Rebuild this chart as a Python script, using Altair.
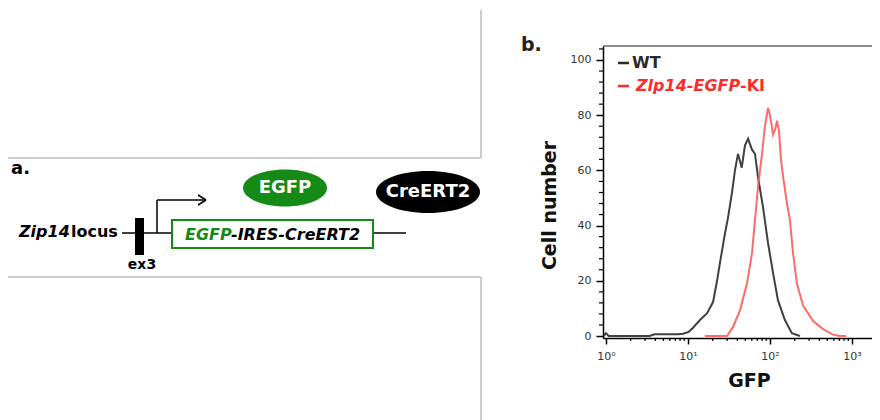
import altair as alt
import pandas as pd

FONT = "DejaVu Sans"

# ---------------- data (panel b: flow cytometry histogram) ----------------
WT_GFP = [0.93, 1.0, 1.08, 3.4, 3.9, 7.5, 8.7, 10.2, 11.5, 14.0,
          17.1, 20.2, 22.6, 24.5, 28.2, 30.8, 34.4, 37.4, 40.7, 45.2,
          49.5, 54.0, 60.3, 65.6, 71.4, 82.2, 94.6, 109, 125, 152,
          185, 232]
WT_COUNT = [0, 1.0, 0, 0, 0.6, 0.6, 0.8, 1.5, 3.0, 5.8,
            8.3, 12.3, 20, 26.4, 37, 43, 52, 60, 66, 61,
            69, 71.5, 67.5, 66, 57.6, 46.7, 33.7, 22.8, 13, 5.8,
            1.0, 0]
KI_GFP = [16.1, 29.9, 35.4, 43.1, 52.4, 60.3, 65.6, 71.4, 79.9, 86.9,
          94.6, 100, 109, 116, 122, 129, 136, 144, 161, 175,
          191, 213, 253, 334, 443, 587, 714, 850]
KI_COUNT = [0, 0, 3.3, 9.4, 19, 30, 42, 54, 66, 76,
            82.6, 80, 73, 75, 78, 74, 64, 58, 48, 42,
            30, 19, 11, 5.5, 2.5, 0.5, 0, 0]
SERIES = ["WT", "Zlp14-EGFP-KI"]
SERIES_COLORS = ["#2b2b2b", "#ff5a5a"]

X_MAJOR = [1, 10, 100, 1000]
X_MINOR = [2, 3, 4, 5, 6, 7, 8, 9, 20, 30, 40, 50, 60, 70, 80, 90,
           200, 300, 400, 500, 600, 700, 800, 900]
Y_MAJOR = [0, 20, 40, 60, 80, 100]
Y_MINOR = [4, 8, 12, 16, 24, 28, 32, 36, 44, 48, 52, 56, 64, 68, 72, 76,
           84, 88, 92, 96, 104]

hist = pd.DataFrame({
    "gfp": WT_GFP + KI_GFP,
    "count": WT_COUNT + KI_COUNT,
    "sample": [SERIES[0]] * len(WT_GFP) + [SERIES[1]] * len(KI_GFP),
})

# ---------------- geometry ----------------
OX, OY = 603, 46          # page position of the plot area's origin
RIGHT = 872               # page x of the plot's right edge (stay inside page)
PLOT_W, PLOT_H = RIGHT - OX, 292


def vx(p):
    return p - OX


def vy(p):
    return p - OY


XS = alt.Scale(type="log", domain=[0.919, 1754], nice=False)
YS = alt.Scale(domain=[-0.72, 105.07], nice=False, zero=False)

one = pd.DataFrame({"k": [0]})


def hrule(x1, x2, y, color="black", w=1.5):
    return alt.Chart(one).mark_rule(color=color, strokeWidth=w).encode(
        x=alt.value(vx(x1)), x2=alt.value(vx(x2)), y=alt.value(vy(y)))


def vrule(x, y1, y2, color="black", w=1.5):
    return alt.Chart(one).mark_rule(color=color, strokeWidth=w).encode(
        x=alt.value(vx(x)), y=alt.value(vy(y1)), y2=alt.value(vy(y2)))


def seg(x1, y1, x2, y2, color="black", w=1.5):
    return alt.Chart(one).mark_rule(color=color, strokeWidth=w).encode(
        x=alt.value(vx(x1)), y=alt.value(vy(y1)),
        x2=alt.value(vx(x2)), y2=alt.value(vy(y2)))


def label(text, x, y, size, color="black", weight="bold", style="normal",
          align="left"):
    return alt.Chart(one).mark_text(
        text=text, align=align, baseline="middle", fontSize=size,
        fontWeight=weight, fontStyle=style, color=color, font=FONT
    ).encode(x=alt.value(vx(x)), y=alt.value(vy(y)))


def ellipse(cx, cy, w, h, color):
    r = h / w
    k = 0.5523
    path = (f"M -1 0 C -1 {-k*r:.4f} {-k:.4f} {-r:.4f} 0 {-r:.4f} "
            f"C {k:.4f} {-r:.4f} 1 {-k*r:.4f} 1 0 "
            f"C 1 {k*r:.4f} {k:.4f} {r:.4f} 0 {r:.4f} "
            f"C {-k:.4f} {r:.4f} -1 {k*r:.4f} -1 0 Z")
    return alt.Chart(one).mark_point(
        shape=path, filled=True, size=w * w, color=color, opacity=1,
        strokeWidth=0
    ).encode(x=alt.value(vx(cx)), y=alt.value(vy(cy)))


GRAY = "#cccccc"
GREEN = "#168a16"

layers = []

# ---------------- panel a: schematic ----------------
layers += [
    hrule(8, 481, 158, GRAY, 2),
    hrule(8, 481, 277, GRAY, 2),
    vrule(481, 10, 158, GRAY, 2),
    vrule(481, 277, 420, GRAY, 2),
    label("a.", 11, 169, 18),
    label("Zip14", 19, 232, 16, style="italic"),
    label("locus", 71, 232, 16),
    hrule(122, 172, 233, "black", 1.5),
    hrule(373, 406, 233, "black", 1.5),
    alt.Chart(one).mark_rect(color="black").encode(
        x=alt.value(vx(135)), x2=alt.value(vx(144)),
        y=alt.value(vy(218)), y2=alt.value(vy(255))),
    vrule(157, 200, 233, "black", 1.5),
    hrule(157, 206, 200, "black", 1.5),
    seg(198, 195, 206, 200, "black", 1.5),
    seg(198, 205, 206, 200, "black", 1.5),
    alt.Chart(one).mark_rect(fill="white", fillOpacity=0, stroke=GREEN,
                             strokeWidth=2).encode(
        x=alt.value(vx(172)), x2=alt.value(vx(373)),
        y=alt.value(vy(220)), y2=alt.value(vy(248))),
    label("EGFP", 185, 235, 16, color=GREEN, style="italic"),
    label("-IRES-CreERT2", 231, 235, 16, style="italic"),
    label("ex3", 142, 265, 14, align="center"),
    ellipse(285, 188, 84, 37, GREEN),
    label("EGFP", 285, 188, 18, color="white", align="center"),
    ellipse(428, 192, 104, 42, "black"),
    label("CreERT2", 428, 192, 18, color="white", align="center"),
]

# ---------------- panel b: histogram ----------------
x_axis = alt.Axis(
    values=X_MAJOR,
    labelExpr="datum.value == 1 ? '10⁰' : datum.value == 10 ? '10¹' : "
              "datum.value == 100 ? '10²' : '10³'",
    tickSize=6, tickWidth=1.5, tickColor="black",
    domainColor="black", domainWidth=1.5,
    labelFontSize=11, labelColor="#333333", labelPadding=6, labelFont=FONT,
    title="GFP", titleFontSize=19, titleFontWeight="bold", titleFont=FONT,
    titleColor="#111111", titleX=146, titleY=42, titleBaseline="middle",
    titleAlign="center", grid=False)
y_axis = alt.Axis(
    values=Y_MAJOR, tickSize=7, tickWidth=1.5, tickColor="black",
    domainColor="black", domainWidth=1.5,
    labelFontSize=11, labelColor="#333333", labelPadding=5, labelFont=FONT,
    title="Cell number", titleFontSize=19, titleFontWeight="bold",
    titleFont=FONT, titleColor="#111111", titleAngle=270,
    titleX=-54, titleY=159, titleBaseline="middle", titleAlign="center",
    grid=False)

lines = alt.Chart(hist).mark_line(strokeWidth=2, opacity=0.9).encode(
    x=alt.X("gfp:Q", scale=XS, axis=x_axis),
    y=alt.Y("count:Q", scale=YS, axis=y_axis),
    color=alt.Color("sample:N", scale=alt.Scale(domain=SERIES,
                                                range=SERIES_COLORS),
                    legend=None),
)

y_minor = alt.Chart(pd.DataFrame({"v": Y_MINOR})).mark_rule(
    color="black", strokeWidth=1.2).encode(
    y=alt.Y("v:Q", scale=YS, axis=y_axis),
    x=alt.value(-4), x2=alt.value(0))
x_minor = alt.Chart(pd.DataFrame({"v": X_MINOR})).mark_rule(
    color="black", strokeWidth=1.2).encode(
    x=alt.X("v:Q", scale=XS, axis=x_axis),
    y=alt.value(PLOT_H), y2=alt.value(PLOT_H + 3))

layers += [
    lines,
    y_minor,
    x_minor,
    hrule(603, RIGHT, 46, "#666666", 1.5),
    label("b.", 521, 45, 19, color="#222222"),
    hrule(618, 629, 63, "#2b2b2b", 2.5),
    label("WT", 632, 63, 16, color="#2b2b2b"),
    hrule(618, 629, 86, "#ff2a2a", 2.5),
    label("Zlp14-EGFP", 636, 86, 16, color="#ff2a2a", style="italic"),
    label("-KI", 740, 86, 16, color="#ff2a2a"),
]

chart = alt.layer(*layers).properties(
    width=PLOT_W, height=PLOT_H,
    padding={"left": OX - 8, "top": OY - 8, "right": 0,
             "bottom": 412 - (OY - 8) - PLOT_H},
    autosize=alt.AutoSizeParams(type="none"),
).configure(font=FONT, view=alt.ViewConfig(strokeWidth=0))

chart.save("out.html", embed_options={"renderer": "svg", "actions": False})
